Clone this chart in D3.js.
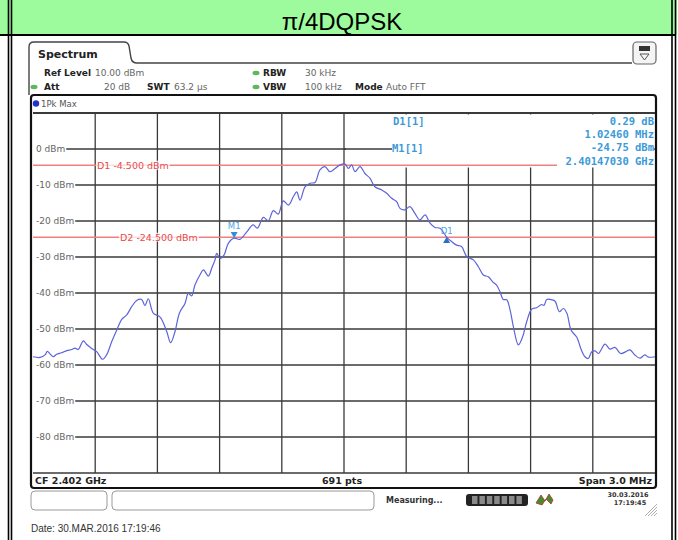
<!DOCTYPE html>
<html>
<head>
<meta charset="utf-8">
<script src="https://cdn.jsdelivr.net/npm/d3@7"></script>
<style>
  body { margin: 0; background: #fff; }
  svg { display: block; }
</style>
</head>
<body>
<div id="chart"></div>
<script>
  "use strict";

  // trace, offsets from CF in MHz and level in dBm
  const freqOffsets = [-1.500,-1.466,-1.442,-1.431,-1.418,-1.402,-1.386,-1.362,-1.337,-1.313,-1.297,-1.282,-1.257,-1.241,-1.217,-1.193,-1.164,-1.145,-1.120,-1.096,-1.072,-1.048,-1.024,-1.000,-0.976,-0.960,-0.944,-0.920,-0.887,-0.855,-0.836,-0.815,-0.794,-0.767,-0.751,-0.735,-0.719,-0.695,-0.678,-0.654,-0.638,-0.622,-0.614,-0.598,-0.579,-0.558,-0.530,-0.502,-0.469,-0.438,-0.418,-0.389,-0.365,-0.341,-0.317,-0.293,-0.268,-0.244,-0.228,-0.212,-0.188,-0.164,-0.140,-0.116,-0.092,-0.068,-0.043,-0.019,0.005,0.021,0.037,0.053,0.077,0.101,0.125,0.149,0.182,0.206,0.230,0.254,0.270,0.294,0.318,0.342,0.366,0.391,0.415,0.439,0.463,0.495,0.519,0.543,0.567,0.592,0.624,0.648,0.672,0.696,0.717,0.736,0.752,0.768,0.785,0.801,0.817,0.841,0.862,0.881,0.905,0.929,0.953,0.965,0.978,1.002,1.018,1.039,1.058,1.075,1.095,1.123,1.142,1.162,1.178,1.195,1.211,1.227,1.259,1.283,1.307,1.334,1.360,1.379,1.403,1.427,1.451,1.467,1.500];
  const levels = [-57.7,-57.9,-57.2,-56.2,-56.9,-57.7,-57.0,-56.6,-56.0,-55.7,-55.3,-55.7,-53.3,-54.3,-55.4,-56.3,-58.4,-57.2,-53.5,-50.3,-47.3,-46.1,-43.8,-42.1,-41.8,-43.5,-41.6,-45.6,-46.7,-50.7,-53.8,-50.7,-45.6,-42.9,-40.1,-40.8,-37.8,-35.0,-33.6,-35.3,-33.1,-30.8,-29.0,-30.4,-29.5,-26.2,-24.75,-25.1,-23.0,-21.1,-22.0,-19.0,-19.9,-17.1,-18.1,-14.4,-15.6,-13.2,-11.9,-14.2,-10.5,-9.5,-9.3,-5.8,-4.9,-6.3,-5.4,-4.4,-4.2,-5.4,-4.4,-6.3,-4.9,-6.8,-8.1,-10.5,-11.4,-12.3,-13.7,-14.6,-16.5,-16.9,-16.0,-17.9,-19.7,-18.3,-20.6,-21.8,-22.0,-24.46,-25.7,-26.7,-27.1,-29.9,-30.8,-32.7,-35.0,-35.5,-36.9,-37.8,-39.6,-41.8,-41.9,-44.7,-49.4,-54.4,-52.1,-48.0,-44.5,-44.1,-43.2,-43.4,-41.8,-41.9,-42.3,-45.2,-44.3,-45.6,-50.3,-52.3,-55.4,-57.7,-58.2,-56.3,-56.1,-56.8,-54.2,-55.6,-55.1,-56.8,-56.3,-55.8,-57.2,-58.1,-57.2,-57.8,-57.7];

  const levelTicks = [0, -10, -20, -30, -40, -50, -60, -70, -80];
  const freqDivisions = d3.range(-1.5, 1.5001, 0.3);

  const lineLevels = [-4.5, -24.5];
  const lineLabels = ['D1  -4.500 dBm', 'D2  -24.500 dBm'];

  const markerNames = ['M1', 'D1'];
  const markerFreqs = [-0.5297, 0.4949];   // 2.40147030 GHz and +1.02460 MHz
  const markerLevels = [-24.75, -24.46];

  const tableKeys = ['D1[1]', 'M1[1]'];
  const tableValues = ['0.29 dB', '1.02460 MHz', '-24.75 dBm', '2.40147030 GHz'];

  const W = 678, H = 540;
  const svg = d3.select('#chart').append('svg').attr('width', W).attr('height', H);

  const x = d3.scaleLinear().domain([-1.5, 1.5]).range([33, 655]);
  const y = d3.scaleLinear().domain([-90, 10]).range([473, 113]);

  const SANS = 'DejaVu Sans, sans-serif';
  const MONO = 'DejaVu Sans Mono, monospace';

  // ---- document frame (table cells) ----
  svg.append('rect').attr('x', 0).attr('y', 0).attr('width', W).attr('height', 35).attr('fill', '#9dfa9d');
  svg.append('line').attr('x1', 0).attr('x2', 676).attr('y1', 35).attr('y2', 35)
    .attr('stroke', '#000').attr('stroke-width', 2);
  [8.5, 11.5, 672, 675.5].forEach(function (px) {
    svg.append('line').attr('x1', px).attr('x2', px).attr('y1', 0).attr('y2', H)
      .attr('stroke', '#000').attr('stroke-width', 1.6);
  });
  svg.append('rect').attr('x', 677).attr('y', 0).attr('width', 1).attr('height', H).attr('fill', '#fff');

  svg.append('text').attr('x', 342).attr('y', 30).attr('text-anchor', 'middle')
    .attr('font-family', 'Liberation Sans, Arial, sans-serif').attr('font-size', 24)
    .attr('fill', '#000').text('π/4DQPSK');

  // ---- instrument window: tab + header ----
  svg.append('path')
    .attr('d', 'M29,95 L29,47 Q29,42 34,42 L124,42 Q128,42 129,46 L131,58 Q132,63 137,63 L632,63')
    .attr('fill', 'none').attr('stroke', '#444').attr('stroke-width', 1.4);
  svg.append('text').attr('x', 38).attr('y', 58).attr('font-family', SANS).attr('font-weight', 'bold')
    .attr('font-size', 11).attr('fill', '#222').text('Spectrum');

  // little display-config icon
  svg.append('rect').attr('x', 633).attr('y', 42).attr('width', 23).attr('height', 22).attr('rx', 4)
    .attr('fill', '#f4f4f4').attr('stroke', '#666').attr('stroke-width', 1.2);
  svg.append('rect').attr('x', 639).attr('y', 46).attr('width', 11).attr('height', 5).attr('fill', '#333');
  svg.append('path').attr('d', 'M640,54 L649,54 L644.5,60 Z').attr('fill', 'none').attr('stroke', '#555');

  const hdr = svg.append('g').attr('font-family', SANS).attr('font-size', 9);
  function hText(px, py, t, bold, col) {
    hdr.append('text').attr('x', px).attr('y', py).attr('font-weight', bold ? 'bold' : 'normal')
      .attr('fill', col || (bold ? '#222' : '#666')).text(t);
  }
  function dot(px, py) {
    hdr.append('ellipse').attr('cx', px).attr('cy', py).attr('rx', 3.5).attr('ry', 2.2).attr('fill', '#5cb85c');
  }
  hText(44, 76, 'Ref Level', true);
  hText(95, 76, '10.00 dBm');
  dot(34, 87);
  hText(44, 90, 'Att', true);
  hText(104, 90, '20 dB');
  hText(147, 90, 'SWT', true);
  hText(174, 90, '63.2 µs');
  dot(256, 73);
  hText(263, 76, 'RBW', true);
  hText(305, 76, '30 kHz');
  dot(256, 87);
  hText(263, 90, 'VBW', true);
  hText(305, 90, '100 kHz');
  hText(355, 90, 'Mode', true);
  hText(386, 90, 'Auto FFT');

  // ---- diagram frame ----
  svg.append('rect').attr('x', 31).attr('y', 95).attr('width', 625).attr('height', 393).attr('rx', 3)
    .attr('fill', '#fff').attr('stroke', '#111').attr('stroke-width', 2.2);
  svg.append('circle').attr('cx', 36).attr('cy', 103.5).attr('r', 3.2).attr('fill', '#2233cc');
  svg.append('text').attr('x', 41).attr('y', 107).attr('font-family', SANS).attr('font-size', 8.5)
    .attr('fill', '#555').text('1Pk Max');

  // grid
  const grid = svg.append('g').attr('stroke', '#3a3a3a').attr('stroke-width', 1.3);
  grid.selectAll('line.v').data(freqDivisions.slice(1, -1)).enter().append('line')
    .attr('x1', d => x(d)).attr('x2', d => x(d)).attr('y1', y(10)).attr('y2', y(-90));
  grid.selectAll('line.h').data(levelTicks).enter().append('line')
    .attr('x1', x(-1.5)).attr('x2', x(1.5)).attr('y1', d => y(d)).attr('y2', d => y(d));
  grid.append('line').attr('x1', x(-1.5)).attr('x2', x(1.5)).attr('y1', y(10)).attr('y2', y(10)).attr('stroke-width', 2);
  grid.append('line').attr('x1', x(-1.5)).attr('x2', x(1.5)).attr('y1', y(-90)).attr('y2', y(-90));

  // level labels sit on a white patch at the left end of each grid line
  const yl = svg.append('g').attr('font-family', SANS).attr('font-size', 9).attr('fill', '#666');
  levelTicks.forEach(function (v) {
    const t = yl.append('text').attr('x', 36).attr('y', y(v) + 3).text(v + ' dBm');
    const w = t.node().getComputedTextLength();
    yl.insert('rect', 'text').attr('x', 33).attr('y', y(v) - 5).attr('width', w + 4).attr('height', 10).attr('fill', '#fff');
  });

  // marker table area covers the top-right grid
  svg.append('rect').attr('x', x(0) + 2).attr('y', y(10) + 1.5).attr('width', x(1.5) - x(0) - 3).attr('height', 53)
    .attr('fill', '#fff');
  svg.append('line').attr('x1', x(0)).attr('x2', 392).attr('y1', y(0)).attr('y2', y(0))
    .attr('stroke', '#3a3a3a').attr('stroke-width', 1.3);

  // display lines
  const dl = svg.append('g');
  lineLevels.forEach(function (v, i) {
    dl.append('line').attr('x1', x(-1.5)).attr('x2', i === 0 ? 557 : x(1.5)).attr('y1', y(v)).attr('y2', y(v))
      .attr('stroke', '#f08080').attr('stroke-width', 1.5);
  });
  const lblX = [97, 120];
  lineLabels.forEach(function (t, i) {
    const tx = dl.append('text').attr('x', lblX[i]).attr('y', y(lineLevels[i]) + 3.4)
      .attr('font-family', SANS).attr('font-size', 9.5).attr('fill', '#e84c4c').text(t);
    const w = tx.node().getComputedTextLength();
    dl.insert('rect', 'text').attr('x', lblX[i] - 1).attr('y', y(lineLevels[i]) - 4.5).attr('width', w + 2).attr('height', 9)
      .attr('fill', '#fff').attr('fill-opacity', 0.75);
  });

  // trace
  const pts = freqOffsets.map((f, i) => [f, levels[i]]);
  svg.append('path').datum(pts)
    .attr('d', d3.line().x(d => x(d[0])).y(d => y(d[1])).curve(d3.curveCatmullRom.alpha(0.5)))
    .attr('fill', 'none').attr('stroke', '#5c64d8').attr('stroke-width', 1.2);

  // markers
  markerNames.forEach(function (n, i) {
    const mx = x(markerFreqs[i]), my = y(markerLevels[i]);
    const tri = i === 0
      ? `M${mx - 3.5},${my - 6} L${mx + 3.5},${my - 6} L${mx},${my} Z`
      : `M${mx - 3.5},${my + 6} L${mx + 3.5},${my + 6} L${mx},${my} Z`;
    svg.append('path').attr('d', tri).attr('fill', i === 0 ? '#2f8fd6' : '#2a6fc0');
    svg.append('text').attr('x', mx).attr('y', i === 0 ? my - 9 : my - 3).attr('text-anchor', 'middle')
      .attr('font-family', SANS).attr('font-size', 8.5).attr('fill', '#4aa6e0').text(n);
  });

  // marker table
  const tb = svg.append('g').attr('font-family', MONO).attr('font-weight', 'bold').attr('font-size', 10.5).attr('fill', '#3c9ad8');
  tb.append('text').attr('x', 393).attr('y', 125).text(tableKeys[0]);
  tb.append('text').attr('x', 392).attr('y', 152).text(tableKeys[1]);
  const rowsY = [125, 137.5, 151, 164.5];
  tableValues.forEach(function (t, i) {
    tb.append('text').attr('x', 654).attr('y', rowsY[i]).attr('text-anchor', 'end').text(t);
  });

  // bottom line of the diagram
  const ft = svg.append('g').attr('font-family', SANS).attr('font-weight', 'bold').attr('font-size', 9.5).attr('fill', '#222');
  ft.append('text').attr('x', 35).attr('y', 484).text('CF 2.402 GHz');
  ft.append('text').attr('x', 342).attr('y', 484).attr('text-anchor', 'middle').text('691 pts');
  ft.append('text').attr('x', 652).attr('y', 484).attr('text-anchor', 'end').text('Span 3.0 MHz');

  // ---- status bar ----
  svg.append('rect').attr('x', 31).attr('y', 491).attr('width', 76).attr('height', 19).attr('rx', 4)
    .attr('fill', '#fff').attr('stroke', '#999');
  svg.append('rect').attr('x', 112).attr('y', 491).attr('width', 262).attr('height', 19).attr('rx', 4)
    .attr('fill', '#fff').attr('stroke', '#999');
  svg.append('text').attr('x', 386).attr('y', 503).attr('font-family', SANS).attr('font-weight', 'bold')
    .attr('font-size', 8).attr('fill', '#333').text('Measuring...');
  svg.append('rect').attr('x', 466).attr('y', 494).attr('width', 62).attr('height', 12).attr('rx', 3).attr('fill', '#222');
  svg.selectAll('rect.seg').data(d3.range(7)).enter().append('rect')
    .attr('x', d => 472 + d * 7.4).attr('y', 496).attr('width', 5.5).attr('height', 8).attr('fill', '#8a8a8a');
  svg.append('path').attr('d', 'M536,503 L541,495 L545,501 L549,494 L553,500 L551,504 L546,499 L542,505 Z')
    .attr('fill', '#4a8a2a').attr('stroke', '#a33').attr('stroke-width', 0.8);
  const sd = svg.append('g').attr('font-family', SANS).attr('font-weight', 'bold').attr('font-size', 6.5).attr('fill', '#333')
    .attr('text-anchor', 'middle');
  sd.append('text').attr('x', 628).attr('y', 497).text('30.03.2016');
  sd.append('text').attr('x', 630).attr('y', 505).text('17:19:45');
  d3.range(5).forEach(function (k) {
    svg.append('line').attr('x1', 645 + k * 3).attr('y1', 516).attr('x2', 657).attr('y2', 504 + k * 3)
      .attr('stroke', '#999').attr('stroke-width', 0.8);
  });

  svg.append('text').attr('x', 31).attr('y', 532).attr('font-family', 'Liberation Sans, Arial, sans-serif')
    .attr('font-size', 10).attr('fill', '#333').text('Date: 30.MAR.2016  17:19:46');
</script>
</body>
</html>
